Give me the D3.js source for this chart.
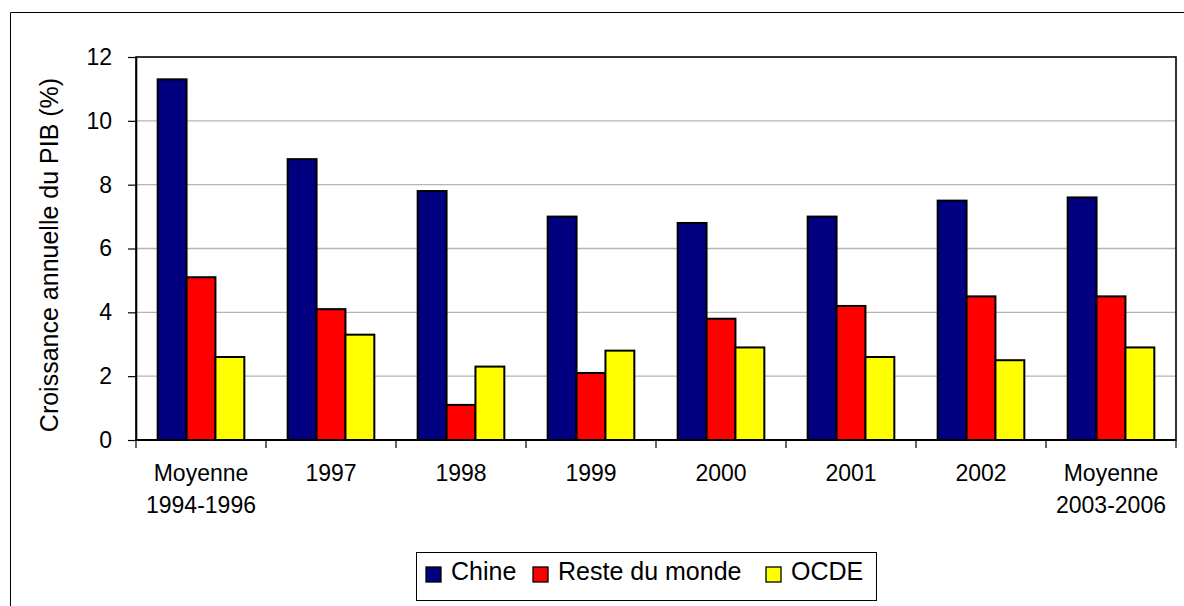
<!DOCTYPE html>
<html>
<head>
<meta charset="utf-8">
<script src="https://cdn.jsdelivr.net/npm/d3@7"></script>
<style>
  html, body { margin: 0; padding: 0; background: #fff; }
  svg { display: block; font-family: "Liberation Sans", Arial, sans-serif; }
</style>
</head>
<body>
<svg id="chart" width="1184" height="606"></svg>
<script>
// Croissance annuelle du PIB (%) : Chine, reste du monde, OCDE
const categories = [
  ["Moyenne", "1994-1996"], ["1997"], ["1998"], ["1999"],
  ["2000"], ["2001"], ["2002"], ["Moyenne", "2003-2006"]
];
const seriesNames = ["Chine", "Reste du monde", "OCDE"];
const chine       = [11.3, 8.8, 7.8, 7.0, 6.8, 7.0, 7.5, 7.6];
const resteMonde  = [5.1, 4.1, 1.1, 2.1, 3.8, 4.2, 4.5, 4.5];
const ocde        = [2.6, 3.3, 2.3, 2.8, 2.9, 2.6, 2.5, 2.9];
const yTicks      = [0, 2, 4, 6, 8, 10, 12];
const seriesColors = ["#000080", "#ff0000", "#ffff00"];

const seriesValues = [chine, resteMonde, ocde];
const catKeys = categories.map(c => c.join(" "));

const svg = d3.select("#chart");
const plot = { left: 136, right: 1176, top: 57, bottom: 440 };

// outer chart frame (runs off the right and bottom edges)
svg.append("path")
  .attr("d", `M10.5,606 V12.5 H1184`)
  .attr("fill", "none").attr("stroke", "#000").attr("stroke-width", 1);

const x = d3.scaleBand()
  .domain(catKeys)
  .range([plot.left, plot.right])
  .paddingInner(1 / 3)
  .paddingOuter(1 / 6);

const xs = d3.scaleBand()
  .domain(seriesNames)
  .range([0, x.bandwidth()]);

const y = d3.scaleLinear().domain([0, 12]).range([plot.bottom, plot.top]);

// horizontal gridlines
svg.append("g")
  .selectAll("line")
  .data(yTicks.filter(t => t > 0 && t < 12))
  .join("line")
  .attr("x1", plot.left).attr("x2", plot.right)
  .attr("y1", d => y(d)).attr("y2", d => y(d))
  .attr("stroke", "#b4b4b4").attr("stroke-width", 1.3);

// plot area frame
svg.append("rect")
  .attr("x", plot.left).attr("y", plot.top)
  .attr("width", plot.right - plot.left).attr("height", plot.bottom - plot.top)
  .attr("fill", "none").attr("stroke", "#000").attr("stroke-width", 1.6);

// bars
const groups = svg.append("g")
  .selectAll("g")
  .data(catKeys)
  .join("g")
  .attr("transform", d => `translate(${x(d)},0)`);

groups.selectAll("rect")
  .data((d, i) => seriesNames.map((s, j) => ({ s, v: seriesValues[j][i], c: seriesColors[j] })))
  .join("rect")
  .attr("x", d => xs(d.s))
  .attr("width", xs.bandwidth())
  .attr("y", d => y(d.v))
  .attr("height", d => y(0) - y(d.v))
  .attr("fill", d => d.c)
  .attr("stroke", "#000").attr("stroke-width", 2);

// y axis
const yAxis = svg.append("g")
  .attr("transform", `translate(${plot.left},0)`)
  .call(d3.axisLeft(y).tickValues(yTicks).tickSize(8).tickPadding(16).tickSizeOuter(0));
yAxis.select(".domain").attr("stroke", "#000").attr("stroke-width", 1.6);
yAxis.selectAll(".tick line").attr("stroke", "#000").attr("stroke-width", 1.2);
yAxis.selectAll(".tick text")
  .attr("font-size", 23).attr("fill", "#000")
  .attr("font-family", "Liberation Sans, Arial, sans-serif");

// x axis: zero line with tick marks at the category boundaries
const half = (x.step() - x.bandwidth()) / 2;
const boundaries = catKeys.map(k => x(k) - half).concat([x(catKeys[catKeys.length - 1]) + x.bandwidth() + half]);
svg.append("line")
  .attr("x1", plot.left).attr("x2", plot.right)
  .attr("y1", y(0)).attr("y2", y(0))
  .attr("stroke", "#000").attr("stroke-width", 2);
svg.append("g")
  .selectAll("line")
  .data(boundaries)
  .join("line")
  .attr("x1", d => d).attr("x2", d => d)
  .attr("y1", y(0)).attr("y2", y(0) + 8)
  .attr("stroke", "#000").attr("stroke-width", 1.2);

// category labels
const labels = svg.append("g")
  .selectAll("text")
  .data(categories)
  .join("text")
  .attr("x", (d, i) => x(catKeys[i]) + x.bandwidth() / 2)
  .attr("y", 481)
  .attr("text-anchor", "middle")
  .attr("font-size", 23)
  .attr("fill", "#000");
labels.selectAll("tspan")
  .data(d => d)
  .join("tspan")
  .attr("x", function () { return this.parentNode.getAttribute("x"); })
  .attr("dy", (d, i) => i === 0 ? 0 : 31.5)
  .text(d => d);

// y axis title
svg.append("text")
  .attr("transform", `translate(58,255) rotate(-90)`)
  .attr("text-anchor", "middle")
  .attr("font-size", 25)
  .attr("fill", "#000")
  .text("Croissance annuelle du PIB (%)");

// legend
const legend = svg.append("g");
legend.append("rect")
  .attr("x", 416.5).attr("y", 552.5).attr("width", 460).attr("height", 48)
  .attr("fill", "#fff").attr("stroke", "#000").attr("stroke-width", 1);
const legendX = [426, 533, 766];
const items = legend.selectAll("g.item")
  .data(seriesNames)
  .join("g")
  .attr("class", "item")
  .attr("transform", (d, i) => `translate(${legendX[i]},0)`);
items.append("rect")
  .attr("x", 0).attr("y", 567).attr("width", 15).attr("height", 15)
  .attr("fill", (d, i) => seriesColors[i])
  .attr("stroke", "#000").attr("stroke-width", 1.3);
items.append("text")
  .attr("x", 25).attr("y", 580)
  .attr("font-size", 25)
  .attr("fill", "#000")
  .text(d => d);
</script>
</body>
</html>
